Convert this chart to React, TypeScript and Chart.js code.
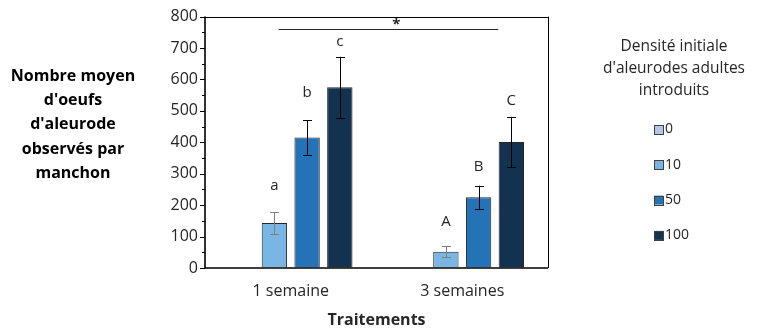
import React, { useEffect, useRef } from 'react';
import { Chart, registerables } from 'chart.js';

Chart.register(...registerables);

const categories = ['1 semaine', '3 semaines'];
const seriesNames = ['0', '10', '50', '100'];
const values0 = [0, 0];
const values10 = [143, 52];
const values50 = [415, 225];
const values100 = [575, 401];
const errors0 = [0, 0];
const errors10 = [35, 17];
const errors50 = [55, 37];
const errors100 = [97, 80];
const letters0 = ['', ''];
const letters10 = ['a', 'A'];
const letters50 = ['b', 'B'];
const letters100 = ['c', 'C'];
const letterValues0 = [0, 0];
const letterValues10 = [261, 147];
const letterValues50 = [558, 322];
const letterValues100 = [720, 531];
const yMin = 0;
const yMax = 800;
const yStep = 100;
const yMinorStep = 50;
const sigFrom = -0.07;
const sigTo = 1.21;
const sigValue = 760;
const sigLabel = '*';
const sigLabelAt = 0.615;
const sigLabelValue = 784;
const yTitleLines = ['Nombre moyen', "d'oeufs", "d'aleurode", 'observés par', 'manchon'];
const xTitle = 'Traitements';
const legendTitleLines = ['Densité initiale', "d'aleurodes adultes", 'introduits'];

const colors = ['#B4C7E7', '#7AB6E3', '#2373B6', '#12324F'];
const errColors = ['#7f7f7f', '#7f7f7f', '#000000', '#000000'];
const FONT = '"Open Sans", "DejaVu Sans", sans-serif';

const allValues = [values0, values10, values50, values100];
const allErrors = [errors0, errors10, errors50, errors100];
const allLetters = [letters0, letters10, letters50, letters100];
const allLetterValues = [letterValues0, letterValues10, letterValues50, letterValues100];

const overlay = {
  id: 'overlay',
  afterDatasetsDraw(chart: any) {
    const { ctx, chartArea: a, scales } = chart;
    const x = scales.x;
    const y = scales.y;
    ctx.save();

    // error bars
    for (let d = 0; d < allValues.length; d++) {
      const meta = chart.getDatasetMeta(d);
      meta.data.forEach((el: any, i: number) => {
        const v = allValues[d][i];
        const e = allErrors[d][i];
        if (!e) return;
        const top = y.getPixelForValue(v + e);
        const bot = y.getPixelForValue(v - e);
        const cx = Math.round(el.x) + 0.5;
        ctx.strokeStyle = errColors[d];
        ctx.lineWidth = 1;
        ctx.beginPath();
        ctx.moveTo(cx, top);
        ctx.lineTo(cx, bot);
        ctx.moveTo(cx - 4.5, Math.round(top) + 0.5);
        ctx.lineTo(cx + 4.5, Math.round(top) + 0.5);
        ctx.moveTo(cx - 4.5, Math.round(bot) + 0.5);
        ctx.lineTo(cx + 4.5, Math.round(bot) + 0.5);
        ctx.stroke();
      });
    }

    // letters
    ctx.fillStyle = '#262626';
    ctx.font = `15px ${FONT}`;
    ctx.textAlign = 'center';
    ctx.textBaseline = 'middle';
    for (let d = 0; d < allValues.length; d++) {
      const meta = chart.getDatasetMeta(d);
      meta.data.forEach((el: any, i: number) => {
        const t = allLetters[d][i];
        if (!t) return;
        ctx.fillText(t, el.x, y.getPixelForValue(allLetterValues[d][i]));
      });
    }

    // frame
    ctx.strokeStyle = '#000';
    ctx.lineWidth = 1;
    ctx.beginPath();
    ctx.moveTo(a.left, Math.round(a.top) + 0.5);
    ctx.lineTo(a.right, Math.round(a.top) + 0.5);
    ctx.moveTo(Math.round(a.right) + 0.5, a.top);
    ctx.lineTo(Math.round(a.right) + 0.5, a.bottom);
    ctx.stroke();
    ctx.lineWidth = 1.6;
    ctx.beginPath();
    ctx.moveTo(a.left, a.top);
    ctx.lineTo(a.left, a.bottom);
    ctx.lineTo(a.right, a.bottom);
    ctx.stroke();

    // ticks
    ctx.lineWidth = 1;
    ctx.beginPath();
    for (let v = yMin; v <= yMax; v += yMinorStep) {
      const py = Math.round(y.getPixelForValue(v)) + 0.5;
      const major = v % yStep === 0;
      ctx.moveTo(a.left - (major ? 5 : 3), py);
      ctx.lineTo(a.left, py);
    }
    ctx.stroke();

    // significance line
    const sx1 = x.getPixelForValue(sigFrom);
    const sx2 = x.getPixelForValue(sigTo);
    const sy = Math.round(y.getPixelForValue(sigValue)) + 0.5;
    ctx.strokeStyle = '#262626';
    ctx.beginPath();
    ctx.moveTo(sx1, sy);
    ctx.lineTo(sx2, sy);
    ctx.stroke();
    ctx.fillStyle = '#262626';
    ctx.font = `bold 15px ${FONT}`;
    ctx.textBaseline = 'middle';
    ctx.fillText(sigLabel, x.getPixelForValue(sigLabelAt), y.getPixelForValue(sigLabelValue) + 3);

    // y title
    ctx.fillStyle = '#000';
    ctx.font = `bold 16px ${FONT}`;
    ctx.textAlign = 'center';
    ctx.textBaseline = 'middle';
    const ytx = a.left - 132;
    yTitleLines.forEach((line, i) => {
      ctx.fillText(line, ytx, 76 + i * 24.4);
    });

    // legend
    const lcx = a.right + 126;
    ctx.font = `15.5px ${FONT}`;
    ctx.fillStyle = '#262626';
    legendTitleLines.forEach((line, i) => {
      ctx.fillText(line, lcx, 47 + i * 21.7);
    });
    const boxX = lcx - 20;
    ctx.textAlign = 'left';
    ctx.font = `14px ${FONT}`;
    seriesNames.forEach((name, i) => {
      const cy = 129.5 + i * 35.3;
      ctx.fillStyle = colors[i];
      ctx.fillRect(boxX, cy - 4.5, 9, 9);
      ctx.strokeStyle = '#404040';
      ctx.lineWidth = 1;
      ctx.strokeRect(boxX + 0.5, Math.round(cy - 4.5) + 0.5, 9, 9);
      ctx.fillStyle = '#262626';
      ctx.fillText(name, boxX + 11, cy);
    });

    ctx.restore();
  },
};

export default function App() {
  const ref = useRef<HTMLCanvasElement>(null);
  useEffect(() => {
    if (!ref.current) return;
    const chart = new Chart(ref.current, {
      type: 'bar',
      data: {
        labels: categories,
        datasets: seriesNames.map((name, i) => ({
          label: name,
          data: allValues[i],
          backgroundColor: colors[i],
          borderColor: '#262626',
          borderWidth: 1,
          categoryPercentage: 0.763,
          barPercentage: 0.775,
        })),
      },
      options: {
        responsive: false,
        animation: false,
        devicePixelRatio: 1,
        layout: { padding: { left: 155, right: 212, top: 16, bottom: 0 } },
        plugins: { legend: { display: false }, tooltip: { enabled: false } },
        scales: {
          x: {
            grid: { display: false, drawTicks: false },
            border: { display: false },
            ticks: { padding: 14, color: '#262626', font: { family: FONT, size: 16 } },
            title: {
              display: true,
              text: xTitle,
              color: '#262626',
              font: { family: FONT, size: 16, weight: 'bold' },
              padding: { top: 0, bottom: 0 },
            },
            afterFit: (s: any) => { s.height = 62; },
          },
          y: {
            min: yMin,
            max: yMax,
            grid: { display: true, drawOnChartArea: false, drawTicks: false },
            border: { display: false },
            ticks: { stepSize: yStep, padding: 7, color: '#262626', font: { family: FONT, size: 16 } },
            afterFit: (s: any) => { s.width = 50; },
          },
        },
      },
      plugins: [overlay],
    });
    return () => chart.destroy();
  }, []);
  return (
    <div style={{ position: 'absolute', left: 0, top: 0, width: 760, height: 330, background: '#fff' }}>
      <canvas ref={ref} width={760} height={330} />
    </div>
  );
}
